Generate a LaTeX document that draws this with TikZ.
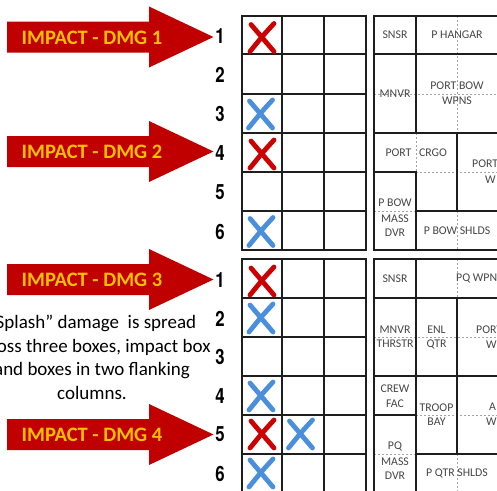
\documentclass[tikz,border=0pt]{standalone}
\usepackage{fontspec}
\setmainfont{Carlito}
\newfontfamily\numfont{TeX Gyre Heros}
\definecolor{arrred}{RGB}{192,0,0}
\definecolor{gold}{RGB}{255,192,0}
\definecolor{xred}{RGB}{204,0,0}
\definecolor{xblue}{RGB}{74,143,219}
\definecolor{celltext}{RGB}{70,70,70}
\definecolor{dashgray}{RGB}{165,165,165}
\definecolor{gridline}{RGB}{30,30,30}
\begin{document}
\begin{tikzpicture}[x=1pt,y=-1pt,
  gridl/.style={line width=1.8pt,draw=gridline,line cap=rect},
  dsh/.style={line width=0.8pt,draw=dashgray,dash pattern=on 2pt off 2pt},
  impact/.style={inner sep=0pt,text=gold,font=\fontsize{20.5}{24}\selectfont\bfseries},
  rownum/.style={inner sep=0pt,font=\fontsize{21}{21}\selectfont\numfont\bfseries},
  cell/.style={inner sep=0pt,text=celltext,font=\fontsize{11.8}{13}\selectfont},
  splash/.style={inner sep=0pt,align=center,font=\fontsize{19}{23.7}\selectfont},
  xmark/.pic={
    \draw[line width=4.8pt,line cap=round] (-11,-13) .. controls (0,0) .. (12,14);
    \draw[line width=4.8pt,line cap=round] (12,-14) .. controls (1,-2) .. (-12,14);
  }]
\useasboundingbox (0,0) rectangle (497,490);
\clip (0,0) rectangle (497,490);

% ---- impact arrows ----
\foreach \cy/\n in {37/1,151.5/2,279.5/3,434.5/4} {
  \fill[arrred] (7,\cy-15.5) -- (149,\cy-15.5) -- (149,\cy-30.5) -- (213.5,\cy)
     -- (149,\cy+30.5) -- (149,\cy+15.5) -- (7,\cy+15.5) -- cycle;
  \node[impact] (imp\n) at (92,\cy+0.5) {IMPACT - DMG \n};
}

% ---- splash text ----
\node[splash] (splash) at (92,357.5) {"Splash" damage\ \ is spread\\across three boxes, impact box\\and boxes in two flanking\\columns.};

% ---- row numbers ----
\foreach \y/\t [count=\i] in {36.5/1,75/2,114/3,153/4,192.5/5,232/6,280/1,318.5/2,357/3,396/4,434.5/5,473.5/6} {
  \node[rownum] (num\i) at (220,\y) {\scalebox{0.8}[1]{\t}};
}

% ---- left grids ----
\foreach \a/\b in {16/250,259/492} {
  \foreach \x in {242,282,324,366} \draw[gridl] (\x,\a) -- (\x,\b);
}
\foreach \y in {16,54,94,133,172,211,250,259,298,337,376,415,454,492}
  \draw[gridl] (242,\y) -- (366,\y);

% ---- right upper block ----
\draw[dsh] (457,16) -- (457,133);
\draw[dsh] (374,94) -- (510,94);
\draw[dsh] (416,133) -- (416,172);
\draw[dsh] (416,172) -- (510,172);
\draw[dsh] (374,211) -- (416,211);
\draw[dsh] (457,211) -- (457,250);
\draw[gridl] (510,16) -- (374,16) -- (374,250) -- (510,250);
\draw[gridl] (374,54) -- (510,54);
\draw[gridl] (416,16) -- (416,133);
\draw[gridl] (374,133) -- (510,133);
\draw[gridl] (457,133) -- (457,211);
\draw[gridl] (374,172) -- (416,172);
\draw[gridl] (416,172) -- (416,250);
\draw[gridl] (416,211) -- (510,211);

% ---- right lower block ----
\draw[dsh] (457,259) -- (457,298);
\draw[dsh] (374,337) -- (510,337);
\draw[dsh] (416,415) -- (510,415);
\draw[dsh] (374,454) -- (416,454);
\draw[dsh] (457,454) -- (457,492);
\draw[gridl] (510,259) -- (374,259) -- (374,492) -- (510,492);
\draw[gridl] (416,259) -- (416,492);
\draw[gridl] (374,298) -- (510,298);
\draw[gridl] (457,298) -- (457,454);
\draw[gridl] (374,376) -- (510,376);
\draw[gridl] (374,415) -- (416,415);
\draw[gridl] (416,454) -- (510,454);

% ---- cell labels upper ----
\node[cell] (u1) at (395,35) {SNSR};
\node[cell] (u2) at (457,35) {P HANGAR};
\node[cell] (u3) at (395,93.5) {MNVR};
\node[cell] (u4) at (457,86) {PORT BOW};
\node[cell] (u5) at (457,101) {WPNS};
\node[cell] (u6) at (398.5,153) {PORT};
\node[cell] (u7) at (433,153) {CRGO};
\node[cell,anchor=west] (u8) at (472,164) {PORT};
\node[cell,anchor=west] (u9) at (485,179.5) {W};
\node[cell] (u10) at (395,202.5) {P BOW};
\node[cell] (u11) at (395,219) {MASS};
\node[cell] (u12) at (395,233) {DVR};
\node[cell] (u13) at (457,231) {P BOW SHLDS};

% ---- cell labels lower ----
\node[cell] (l1) at (395,278.5) {SNSR};
\node[cell,anchor=west] (l2) at (456,278.5) {PQ WPNS};
\node[cell] (l3) at (395,330) {MNVR};
\node[cell] (l4) at (395,344) {THRSTR};
\node[cell] (l5) at (436.5,330) {ENL};
\node[cell] (l6) at (436.5,344) {QTR};
\node[cell,anchor=west] (l7) at (476,329.5) {PORT};
\node[cell,anchor=west] (l8) at (486,344.5) {W};
\node[cell] (l9) at (395,389) {CREW};
\node[cell] (l10) at (395,403.5) {FAC};
\node[cell] (l11) at (436.5,407.5) {TROOP};
\node[cell] (l12) at (436.5,422) {BAY};
\node[cell,anchor=west] (l13) at (489,407) {A};
\node[cell,anchor=west] (l14) at (486,422) {W};
\node[cell] (l15) at (395,446.5) {PQ};
\node[cell] (l16) at (395,461.5) {MASS};
\node[cell] (l17) at (395,476) {DVR};
\node[cell] (l18) at (457,473) {P QTR SHLDS};

% ---- X marks ----
\pic[xred]  (xa) at (262,37.5) {xmark};
\pic[xblue] (xb) at (260.5,114) {xmark};
\pic[xred]  (xc) at (262,154) {xmark};
\pic[xblue] (xd) at (261,231.5) {xmark};
\pic[xred]  (xe) at (262,281) {xmark};
\pic[xblue] (xf) at (261,318) {xmark};
\pic[xblue] (xg) at (261,396) {xmark};
\pic[xred]  (xh) at (262,434) {xmark};
\pic[xblue] (xi) at (300.5,434) {xmark};
\pic[xblue] (xj) at (261,473) {xmark};
\end{tikzpicture}
\end{document}
